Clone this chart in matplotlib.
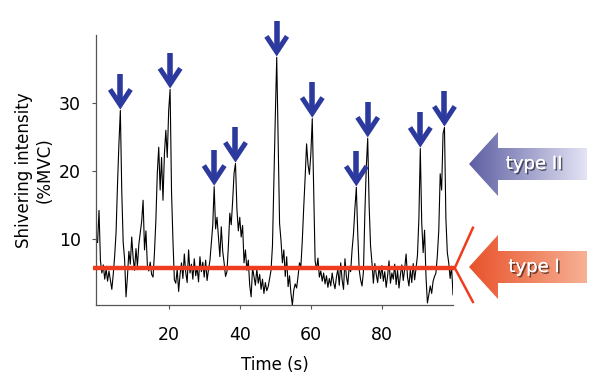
import numpy as np
import matplotlib
matplotlib.use("Agg")
import matplotlib.pyplot as plt
from matplotlib.patches import Polygon
from matplotlib.colors import LinearSegmentedColormap
import matplotlib.patheffects as pe

# shivering trace, one sample every 0.4 s (%MVC)
sample_step = 0.4
intensity = [
    9.5, 14.2, 6.8, 5.0, 6.2, 4.1, 5.6, 3.8, 5.3, 4.0,
    2.6, 4.8, 7.5, 11.0, 18.0, 24.0, 28.9, 17.0, 9.5, 7.0,
    1.5, 4.5, 8.2, 6.3, 10.3, 7.2, 5.4, 8.6, 6.0, 9.2,
    10.9, 12.6, 15.7, 8.4, 11.2, 6.2, 5.3, 6.6, 4.8, 4.4,
    8.0, 12.8, 19.7, 23.5, 17.2, 22.0, 15.7, 22.5, 26.0, 22.0,
    28.9, 32.0, 17.0, 9.8, 4.0, 3.5, 5.6, 2.3, 4.8, 6.5,
    4.2, 7.8, 5.1, 3.6, 8.4, 5.0, 6.3, 4.1, 7.1, 4.6,
    5.8, 3.7, 7.4, 5.2, 6.6, 4.4, 6.9, 3.9, 5.5, 6.8,
    9.5, 12.0, 17.7, 11.5, 13.2, 10.3, 7.4, 11.8, 8.2, 6.5,
    4.5, 5.2, 9.0, 13.8, 12.1, 15.6, 19.7, 21.1, 14.4, 11.2,
    13.2, 10.3, 12.0, 6.5, 8.4, 5.4, 6.9, 3.2, 1.5, 5.8,
    4.5, 3.2, 5.6, 3.5, 4.8, 2.6, 4.1, 2.0, 3.6, 2.4,
    3.0, 4.2, 5.4, 9.0, 18.5, 28.0, 36.7, 24.5, 12.3, 9.8,
    6.5, 8.4, 4.5, 7.4, 3.0, 4.6, 2.0, 0.3, 2.5, 3.4,
    2.8, 4.5, 6.5, 6.0, 9.8, 14.7, 19.1, 24.0, 21.0, 19.5,
    22.5, 27.7, 17.0, 6.8, 5.5, 7.2, 4.4, 5.3, 3.8, 5.0,
    3.4, 4.6, 2.9, 4.2, 3.1, 5.0, 3.6, 2.7, 4.4, 5.6,
    3.2, 6.5, 4.0, 2.6, 7.1, 4.5, 3.3, 6.0, 5.2, 8.4,
    10.8, 14.5, 17.6, 10.8, 5.5, 4.0, 3.1, 5.2, 13.8, 20.6,
    24.8, 15.0, 9.0, 6.5, 3.5, 6.4, 4.8, 3.6, 5.9, 4.2,
    6.1, 3.8, 5.2, 2.9, 4.6, 6.8, 3.5, 5.0, 4.1, 6.3,
    3.3, 5.4, 2.8, 4.7, 6.2, 3.9, 5.6, 7.8, 4.4, 3.1,
    5.5, 3.6, 6.4, 4.0, 5.7, 7.6, 13.0, 23.3, 12.4, 8.0,
    11.3, 4.5, 0.6, 1.8, 3.1, 2.0, 3.8, 4.5, 5.0, 7.6,
    11.3, 19.6, 17.2, 25.5, 26.4, 13.0, 8.0, 6.5, 4.2, 6.0,
    1.8,
]
# samples marked as type II bursts (blue arrows)
burst_idx = [16, 51, 82, 97, 126, 151, 182, 190, 227, 244]
type1_level = 5.75

x_ticks = [20, 40, 60, 80]
y_ticks = [10, 20, 30]

intensity = np.array(intensity)
time = np.arange(len(intensity)) * sample_step

fig = plt.figure(figsize=(5.91, 3.78), dpi=100)
ax = fig.add_axes([96 / 591, 1 - 305 / 378, 357 / 591, 270 / 378])

ax.plot(time, intensity, color="black", lw=0.8, zorder=3)
ax.plot([-1.3, 100.5], [type1_level, type1_level], color="#f03c1e",
        lw=3.2, clip_on=False, zorder=4, solid_capstyle="butt")
# red chevron at the end of the type I line
ax.plot([105.6, 100.5, 105.6], [type1_level + 5.9, type1_level, type1_level - 5.0],
        color="#f03c1e", lw=1.8, clip_on=False, zorder=4)

# blue arrows above every burst
blue = "#2c3a9e"
for i in burst_idx:
    t, v = time[i], intensity[i]
    tip = v + 0.8
    ax.plot([t, t], [tip + 0.3, tip + 4.6], color=blue, lw=4.0,
            solid_capstyle="butt", clip_on=False, zorder=5)
    ax.plot([t - 2.9, t, t + 2.9], [tip + 2.3, tip, tip + 2.3], color=blue, lw=3.6,
            solid_joinstyle="miter", solid_capstyle="butt", clip_on=False, zorder=5)

ax.set_xlim(-0.45, 100)
ax.set_ylim(0.3, 40)
ax.set_xticks(x_ticks)
ax.set_yticks(y_ticks)
for side in ["top", "right"]:
    ax.spines[side].set_visible(False)
for side in ["left", "bottom"]:
    ax.spines[side].set_color("#555555")
    ax.spines[side].set_linewidth(0.9)
ax.tick_params(axis="x", length=3, color="#555555", labelsize=12.5, pad=12)
ax.tick_params(axis="y", length=3, color="#555555", labelsize=12.5, pad=8)

ax.set_xlabel("Time (s)", fontsize=12)
ax.xaxis.set_label_coords(0.5, -0.19)
ax.set_ylabel("Shivering intensity\n(%MVC)", fontsize=12, linespacing=1.15)
ax.yaxis.set_label_coords(-0.12, 0.5)

# big gradient arrows on the right, drawn in pixel space
over = fig.add_axes([0, 0, 1, 1], zorder=10)
over.set_xlim(0, 591)
over.set_ylim(378, 0)
over.axis("off")
over.patch.set_alpha(0)


def big_arrow(y_mid, c_left, c_right, label):
    tip_x, head_x, end_x = 469, 498, 587
    head_h, body_h = 32, 16
    pts = [(tip_x, y_mid), (head_x, y_mid - head_h), (head_x, y_mid - body_h),
           (end_x, y_mid - body_h), (end_x, y_mid + body_h), (head_x, y_mid + body_h),
           (head_x, y_mid + head_h)]
    poly = Polygon(pts, closed=True, facecolor="none", edgecolor="none")
    over.add_patch(poly)
    cmap = LinearSegmentedColormap.from_list("g", [c_left, c_right])
    grad = np.linspace(0, 1, 256).reshape(1, -1)
    im = over.imshow(grad, cmap=cmap, aspect="auto",
                     extent=(tip_x, end_x, y_mid + head_h, y_mid - head_h))
    im.set_clip_path(poly)
    over.text(534, y_mid, label, color="white", fontsize=13, ha="center", va="center",
              path_effects=[pe.withSimplePatchShadow(offset=(1.2, -1.2),
                                                     shadow_rgbFace="black", alpha=0.55),
                            pe.Normal()])


big_arrow(164, "#5d5ea2", "#e4e4f5", "type II")
big_arrow(267, "#e8522a", "#f6b194", "type I")
over.set_xlim(0, 591)
over.set_ylim(378, 0)

fig.savefig("out.png", dpi=100)
